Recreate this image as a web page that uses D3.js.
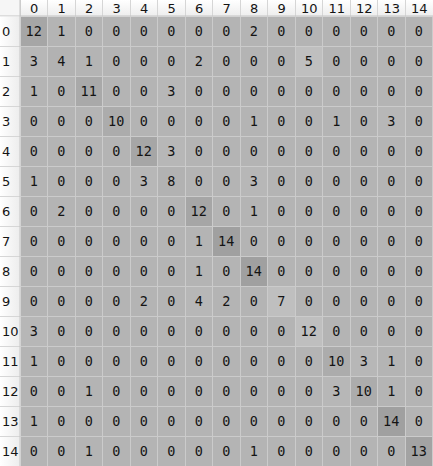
<!DOCTYPE html>
<html>
<head>
<meta charset="utf-8">
<script src="https://cdn.jsdelivr.net/npm/d3@7"></script>
<style>
  html, body { margin: 0; padding: 0; background: #ffffff; }
  svg { display: block; }
</style>
</head>
<body>
<svg id="chart" width="433" height="466"></svg>
<script>
// ---- data ----
const rowLabels = ["0","1","2","3","4","5","6","7","8","9","10","11","12","13","14"];
const colLabels = ["0","1","2","3","4","5","6","7","8","9","10","11","12","13","14"];
const row0  = [12,1,0,0,0,0,0,0,2,0,0,0,0,0,0];
const row1  = [3,4,1,0,0,0,2,0,0,0,5,0,0,0,0];
const row2  = [1,0,11,0,0,3,0,0,0,0,0,0,0,0,0];
const row3  = [0,0,0,10,0,0,0,0,1,0,0,1,0,3,0];
const row4  = [0,0,0,0,12,3,0,0,0,0,0,0,0,0,0];
const row5  = [1,0,0,0,3,8,0,0,3,0,0,0,0,0,0];
const row6  = [0,2,0,0,0,0,12,0,1,0,0,0,0,0,0];
const row7  = [0,0,0,0,0,0,1,14,0,0,0,0,0,0,0];
const row8  = [0,0,0,0,0,0,1,0,14,0,0,0,0,0,0];
const row9  = [0,0,0,0,2,0,4,2,0,7,0,0,0,0,0];
const row10 = [3,0,0,0,0,0,0,0,0,0,12,0,0,0,0];
const row11 = [1,0,0,0,0,0,0,0,0,0,0,10,3,1,0];
const row12 = [0,0,1,0,0,0,0,0,0,0,0,3,10,1,0];
const row13 = [1,0,0,0,0,0,0,0,0,0,0,0,0,14,0];
const row14 = [0,0,1,0,0,0,0,0,1,0,0,0,0,0,13];
const matrix = [row0,row1,row2,row3,row4,row5,row6,row7,row8,row9,row10,row11,row12,row13,row14];

// ---- layout ----
const W = 433, H = 466;
const rowHeaderW = 20.5, colHeaderH = 16.5;
const svg = d3.select("#chart");

const x = d3.scaleBand().domain(colLabels).range([rowHeaderW, W]).padding(0);
const y = d3.scaleBand().domain(rowLabels).range([colHeaderH, H + 0.5]).padding(0);

// shading (visual style, separate from data)
const base = "#b4b4b4";
const diagShade = d3.scaleLinear().domain([8, 14]).range(["#b2b2b2", "#a0a0a0"]).clamp(true);
const lightCells = new Set(["1,10", "9,9", "10,10"]);
function cellColor(r, c, v) {
  if (lightCells.has(r + "," + c)) return "#bfbfbf";
  if (r === c) return diagShade(v);
  if (v >= 3) return "#b7b7b7";
  return base;
}

const cells = [];
matrix.forEach((row, r) => row.forEach((v, c) => cells.push({r, c, v})));

const g = svg.append("g");
g.selectAll("rect.cell").data(cells).join("rect")
  .attr("class", "cell")
  .attr("x", d => x(colLabels[d.c]))
  .attr("y", d => y(rowLabels[d.r]))
  .attr("width", x.bandwidth())
  .attr("height", y.bandwidth())
  .attr("fill", d => cellColor(d.r, d.c, d.v));

// grid lines
const gridColor = "#cbcbcb";
g.selectAll("line.vgrid").data(colLabels).join("line")
  .attr("class", "vgrid")
  .attr("x1", d => Math.round(x(d) + x.bandwidth()) - 0.5)
  .attr("x2", d => Math.round(x(d) + x.bandwidth()) - 0.5)
  .attr("y1", colHeaderH).attr("y2", H)
  .attr("stroke", gridColor).attr("stroke-width", 1);
g.selectAll("line.hgrid").data(rowLabels).join("line")
  .attr("class", "hgrid")
  .attr("y1", d => Math.round(y(d) + y.bandwidth()) - 0.5)
  .attr("y2", d => Math.round(y(d) + y.bandwidth()) - 0.5)
  .attr("x1", rowHeaderW).attr("x2", W)
  .attr("stroke", gridColor).attr("stroke-width", 1);

// cell text
g.selectAll("text.val").data(cells).join("text")
  .attr("class", "val")
  .attr("x", d => x(colLabels[d.c]) + x.bandwidth() / 2 - 0.5)
  .attr("y", d => y(rowLabels[d.r]) + y.bandwidth() / 2)
  .attr("dy", "0.36em")
  .attr("text-anchor", "middle")
  .attr("font-family", "DejaVu Sans Mono, monospace")
  .attr("font-size", 13.5)
  .attr("fill", "#141414")
  .text(d => d.v);

// header gradients
const defs = svg.append("defs");
const gv = defs.append("linearGradient").attr("id", "hgrad").attr("x1", 0).attr("x2", 0).attr("y1", 0).attr("y2", 1);
gv.append("stop").attr("offset", "0%").attr("stop-color", "#ffffff");
gv.append("stop").attr("offset", "100%").attr("stop-color", "#ededed");
const gh = defs.append("linearGradient").attr("id", "vgrad").attr("x1", 0).attr("x2", 1).attr("y1", 0).attr("y2", 0);
gh.append("stop").attr("offset", "0%").attr("stop-color", "#ffffff");
gh.append("stop").attr("offset", "100%").attr("stop-color", "#ececec");

// corner
svg.append("rect").attr("x", 0).attr("y", 0).attr("width", rowHeaderW).attr("height", colHeaderH)
  .attr("fill", "#f6f6f6");

// column header
const ch = svg.append("g");
ch.selectAll("rect").data(colLabels).join("rect")
  .attr("x", d => x(d)).attr("y", 0)
  .attr("width", x.bandwidth()).attr("height", colHeaderH)
  .attr("fill", "url(#hgrad)");
ch.selectAll("line").data(colLabels).join("line")
  .attr("x1", d => Math.round(x(d)) - 0.5).attr("x2", d => Math.round(x(d)) - 0.5)
  .attr("y1", 0).attr("y2", colHeaderH)
  .attr("stroke", "#d6d6d6");
ch.append("line").attr("x1", 0).attr("x2", W).attr("y1", colHeaderH - 0.5).attr("y2", colHeaderH - 0.5)
  .attr("stroke", "#c4c4c4");
ch.selectAll("text").data(colLabels).join("text")
  .attr("x", d => x(d) + x.bandwidth() / 2)
  .attr("y", colHeaderH / 2)
  .attr("dy", "0.36em")
  .attr("text-anchor", "middle")
  .attr("font-family", "DejaVu Sans, sans-serif")
  .attr("font-size", 13)
  .attr("fill", "#141414")
  .text(d => d);

// row header
const rh = svg.append("g");
rh.selectAll("rect").data(rowLabels).join("rect")
  .attr("x", 0).attr("y", d => y(d))
  .attr("width", rowHeaderW).attr("height", y.bandwidth())
  .attr("fill", "url(#vgrad)");
rh.selectAll("line").data(rowLabels).join("line")
  .attr("x1", 0).attr("x2", rowHeaderW)
  .attr("y1", d => Math.round(y(d) + y.bandwidth()) - 0.5)
  .attr("y2", d => Math.round(y(d) + y.bandwidth()) - 0.5)
  .attr("stroke", "#d6d6d6");
rh.append("line").attr("x1", rowHeaderW - 0.5).attr("x2", rowHeaderW - 0.5).attr("y1", 0).attr("y2", H)
  .attr("stroke", "#c4c4c4");
rh.selectAll("text").data(rowLabels).join("text")
  .attr("x", 2)
  .attr("y", d => y(d) + y.bandwidth() / 2)
  .attr("dy", "0.36em")
  .attr("text-anchor", "start")
  .attr("font-family", "DejaVu Sans, sans-serif")
  .attr("font-size", 13)
  .attr("fill", "#141414")
  .text(d => d);
</script>
</body>
</html>
